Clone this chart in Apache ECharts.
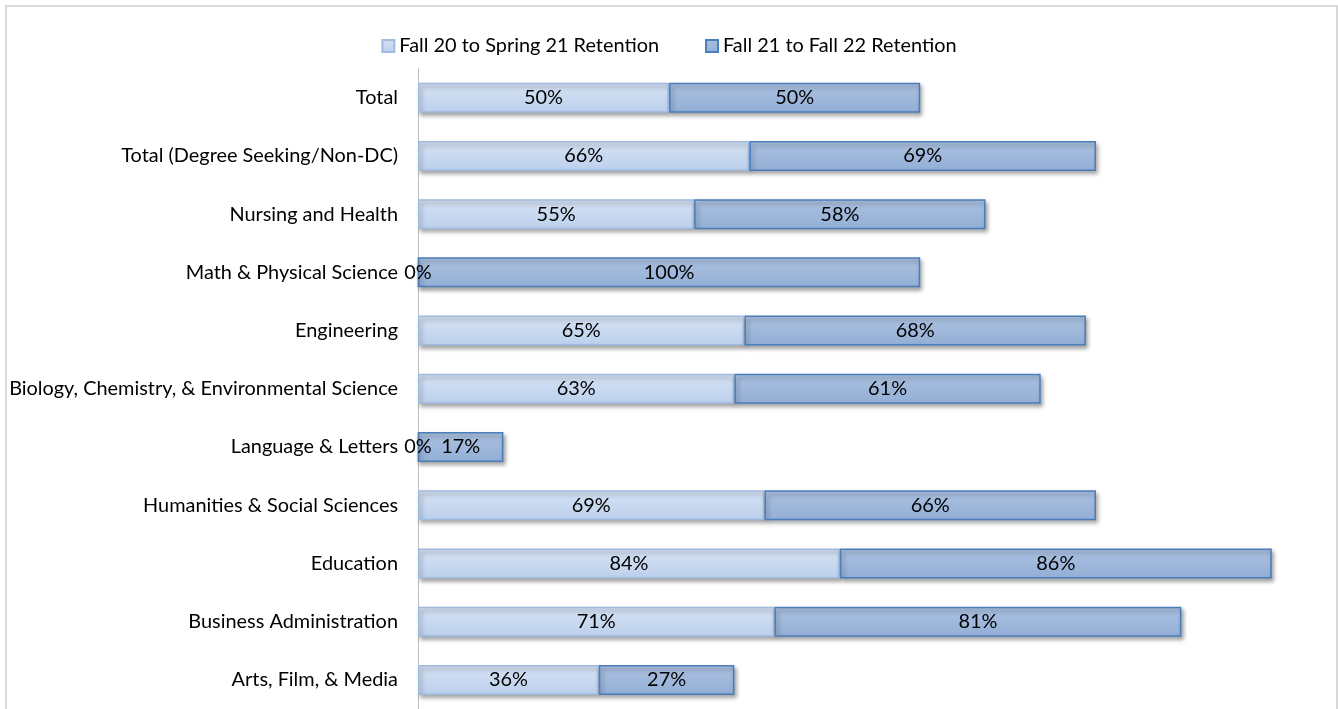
<!DOCTYPE html>
<html><head><meta charset="utf-8">
<script src="https://cdn.jsdelivr.net/npm/echarts@6/dist/echarts.min.js"></script>
<style>html,body{margin:0;padding:0;background:#fff}#c{width:1338px;height:709px}</style>
</head><body><div id="c"></div>
<script>
const categories = ["Total","Total (Degree Seeking/Non-DC)","Nursing and Health","Math & Physical Science","Engineering","Biology, Chemistry, & Environmental Science","Language & Letters","Humanities & Social Sciences","Education","Business Administration","Arts, Film, & Media"];
const fall20Spring21 = [50,66,55,0,65,63,0,69,84,71,36];
const fall21Fall22 = [50,69,58,100,68,61,17,66,86,81,27];
const seriesNames = ["Fall 20 to Spring 21 Retention","Fall 21 to Fall 22 Retention"];

const FONT = 'Lato';
const FS = 19.9;
const chart = echarts.init(document.getElementById('c'), null, {renderer:'canvas'});
const grad = (a,b)=>new echarts.graphic.LinearGradient(0,0,0,1,[{offset:0,color:a},{offset:1,color:b}]);
const shadow = {shadowColor:'rgba(0,0,0,0.35)',shadowBlur:4,shadowOffsetX:2,shadowOffsetY:3};
chart.setOption({
  animation:false,
  textStyle:{fontFamily:FONT},
  graphic:[{type:'rect',shape:{x:6,y:6,width:1331,height:720},style:{fill:'none',stroke:'#d9d9d9',lineWidth:2},silent:true}],
  legend:{top:31,left:'center',itemWidth:12,itemHeight:12,itemGap:46,icon:'rect',
    textStyle:{fontFamily:FONT,fontSize:FS,color:'#000'},
    data:seriesNames},
  grid:{left:418,right:16,top:68.6,bottom:-5,containLabel:false},
  xAxis:{type:'value',min:0,max:180,show:false,splitLine:{show:false}},
  yAxis:{type:'category',inverse:true,data:categories,
    axisLine:{show:true,lineStyle:{color:'#bfbfbf',width:1}},
    axisTick:{show:false},
    axisLabel:{margin:20,fontSize:FS,color:'#000',fontFamily:FONT}},
  series:[
    {name:seriesNames[0],type:'bar',stack:'a',barWidth:30,data:fall20Spring21,
     itemStyle:Object.assign({color:grad('#d5e2f4','#bcd0ec'),borderColor:'#a0bbe0',borderWidth:1.5},shadow),
     label:{show:true,position:'inside',formatter:'{c}%',color:'#000',fontSize:FS,fontFamily:FONT}},
    {name:seriesNames[1],type:'bar',stack:'a',barWidth:30,data:fall21Fall22,
     itemStyle:Object.assign({color:grad('#abc1e0','#93afd6'),borderColor:'#4a7ebb',borderWidth:1.5},shadow),
     label:{show:true,position:'inside',formatter:'{c}%',color:'#000',fontSize:FS,fontFamily:FONT}}
  ]
});
</script></body></html>
